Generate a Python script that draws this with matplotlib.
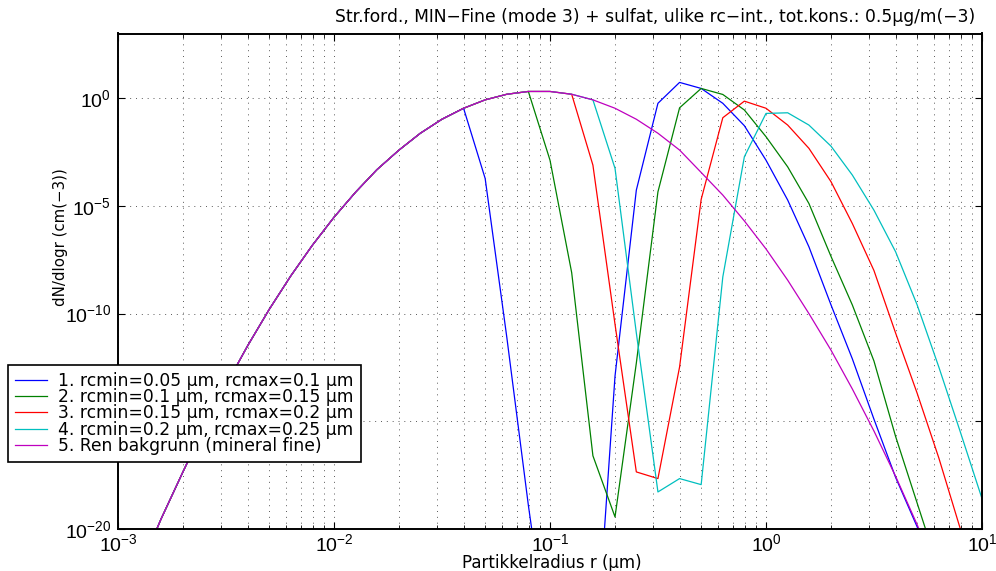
import numpy as np
import matplotlib
matplotlib.use("Agg")
import matplotlib.pyplot as plt
from matplotlib.ticker import LogLocator, FixedLocator, NullFormatter

plt.rcParams['font.family'] = ['Liberation Sans', 'DejaVu Sans']
plt.rcParams['mathtext.fontset'] = 'custom'
plt.rcParams['mathtext.rm'] = 'Liberation Sans'
plt.rcParams['mathtext.it'] = 'Liberation Sans:italic'
WIDE = ['DejaVu Sans']

# particle radius grid (um), 10 points per decade
radius = [0.001, 0.00126, 0.00158, 0.002, 0.00251, 0.00316, 0.00398, 0.00501, 0.00631, 0.00794,
          0.01, 0.0126, 0.0158, 0.02, 0.0251, 0.0316, 0.0398, 0.0501, 0.0631, 0.0794,
          0.1, 0.126, 0.158, 0.2, 0.251, 0.316, 0.398, 0.501, 0.631, 0.794,
          1.0, 1.26, 1.58, 2.0, 2.51, 3.16, 3.98, 5.01, 6.31, 7.94, 10.0]

# log10 of dN/dlogr (cm^-3)
bakgrunn_log = [-24.35, -21.88, -19.55, -17.34, -15.26, -13.32, -11.50, -9.81, -8.25, -6.83,
                -5.53, -4.36, -3.32, -2.41, -1.63, -0.98, -0.47, -0.08, 0.18, 0.31,
                0.31, 0.18, -0.08, -0.47, -0.98, -1.63, -2.41, -3.45, -4.5, -5.7,
                -7.0, -8.45, -10.0, -11.7, -13.5, -15.45, -17.55, -19.8, -22.2, -24.7, -27.3]

# each case follows the background up to its rcmin, then its own values
case1_tail = [-3.73, -11.1, -18.9, -26.0, -30.0, -27.8, -12.9, -4.27, -0.24, 0.73,
              0.45, -0.24, -1.28, -2.88, -4.73, -6.9, -9.6, -12.1, -14.9, -17.6,
              -19.9, -22.5, -25.2, -28.0]
case2_tail = [-2.88, -8.1, -16.6, -19.44, -12.3, -4.35, -0.45, 0.45, 0.17, -0.55,
              -1.79, -3.19, -4.89, -7.35, -9.6, -12.2, -15.7, -18.8, -21.9, -25.0, -28.0]
case3_tail = [-3.11, -10.5, -17.35, -17.66, -12.48, -4.7, -0.91, -0.14, -0.47, -1.25,
              -2.33, -3.88, -5.82, -8.0, -10.9, -13.7, -16.7, -20.0, -23.2]
case4_tail = [-3.26, -10.9, -18.28, -17.66, -17.94, -8.3, -2.72, -0.71, -0.68, -1.25,
              -2.23, -3.57, -5.2, -7.13, -9.6, -12.48, -15.5, -18.59]

labels = ["1. rcmin=0.05 \u03bcm, rcmax=0.1 \u03bcm",
          "2. rcmin=0.1 \u03bcm, rcmax=0.15 \u03bcm",
          "3. rcmin=0.15 \u03bcm, rcmax=0.2 \u03bcm",
          "4. rcmin=0.2 \u03bcm, rcmax=0.25 \u03bcm",
          "5. Ren bakgrunn (mineral fine)"]
colors = [(0, 0, 1), (0, 0.5, 0), (1, 0, 0), (0, 0.75, 0.75), (0.75, 0, 0.75)]

n = len(radius)
series_log = []
for tail in (case1_tail, case2_tail, case3_tail, case4_tail):
    k = n - len(tail)
    series_log.append(bakgrunn_log[:k] + tail)
series_log.append(bakgrunn_log)

fig = plt.figure(figsize=(9.96, 5.71), dpi=100)
ax = fig.add_axes([118 / 996, 1 - 529 / 571, (982 - 118) / 996, (529 - 33.5) / 571])

r = np.array(radius)
for ylog, c, lab in zip(series_log, colors, labels):
    ax.plot(r, 10.0 ** np.array(ylog), color=c, lw=0.9, label=lab)

ax.set_xscale('log')
ax.set_yscale('log')
ax.set_xlim(1e-3, 1e1)
ax.set_ylim(1e-20, 1e3)

ax.xaxis.set_major_locator(FixedLocator([1e-3, 1e-2, 1e-1, 1e0, 1e1]))
ax.xaxis.set_minor_locator(LogLocator(base=10, subs=np.arange(2, 10), numticks=50))
ax.xaxis.set_minor_formatter(NullFormatter())
ax.yaxis.set_major_locator(FixedLocator([1e-20, 1e-15, 1e-10, 1e-5, 1e0]))
ax.yaxis.set_minor_locator(FixedLocator([]))
ax.set_xticklabels([r'$10^{-3}$', r'$10^{-2}$', r'$10^{-1}$', r'$10^{0}$', r'$10^{1}$'])
ax.set_yticklabels([r'$10^{-20}$', r'$10^{-15}$', r'$10^{-10}$', r'$10^{-5}$', r'$10^{0}$'])

ax.tick_params(which='both', direction='in', top=True, right=True, labelsize=14)
ax.tick_params(which='major', length=5, width=0.8)
ax.tick_params(which='minor', length=3, width=0.6)
ax.tick_params(axis='x', pad=3)
ax.tick_params(axis='y', pad=5)

ax.grid(True, which='major', axis='both', color='0.35', linestyle=(0, (1, 5)), lw=0.7)
ax.grid(True, which='minor', axis='x', color='0.35', linestyle=(0, (1, 5)), lw=0.7)
for s in ax.spines.values():
    s.set_linewidth(1.4)

fig.text(655 / 996, 1 - 17 / 571,
         "Str.ford., MIN\u2212Fine (mode 3) + sulfat, ulike rc\u2212int., tot.kons.: 0.5\u03bcg/m(\u22123)",
         ha='center', va='center', fontsize=12.3, family=WIDE)
ax.set_xlabel("Partikkelradius r (\u03bcm)", fontsize=12, family=WIDE)
ax.xaxis.set_label_coords(0.502, -0.05)
ax.set_ylabel("dN/dlogr (cm(\u22123))", fontsize=10.8, family=WIDE)
ax.yaxis.set_label_coords(-0.058, (529 - 237) / 495.5)

leg = fig.legend(loc='upper left', bbox_to_anchor=(8 / 996, 1 - 365 / 571),
                 bbox_transform=fig.transFigure, borderaxespad=0,
                 prop={'family': WIDE, 'size': 12.3},
                 fancybox=False, framealpha=1, edgecolor='black', handlelength=1.9,
                 handletextpad=0.65, labelspacing=-0.1, borderpad=0.4)
leg.get_frame().set_linewidth(1.2)

fig.savefig("out.png", dpi=100)
